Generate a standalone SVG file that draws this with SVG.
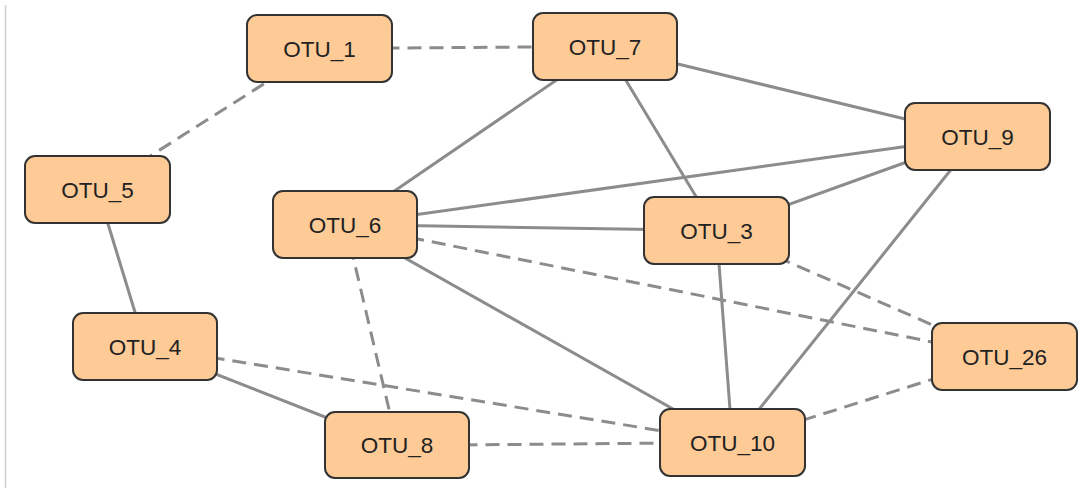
<svg xmlns="http://www.w3.org/2000/svg" width="1088" height="489" viewBox="0 0 1088 489">
<style>
.e{stroke:#8c8c8c;stroke-width:3;fill:none}
.d{stroke-dasharray:14 8}
.n rect{fill:#fecb97;stroke:#333;stroke-width:2}
.n text{font-family:"Liberation Sans",Arial,sans-serif;font-size:22.5px;fill:#222;text-anchor:middle}
</style>
<rect width="1088" height="489" fill="#fff"/>
<line x1="5.5" y1="5" x2="5.5" y2="488" stroke="#cfcfcf" stroke-width="1.5"/>
<g id="connectors">
<line class="e d" x1="319.5" y1="48.5" x2="605.5" y2="46.5"/>
<line class="e d" x1="319.5" y1="48.5" x2="97.5" y2="189.5"/>
<line class="e" x1="97.5" y1="189.5" x2="145.5" y2="346.5"/>
<line class="e" x1="605.5" y1="46.5" x2="977.5" y2="136.5"/>
<line class="e" x1="605.5" y1="46.5" x2="345.5" y2="224.5"/>
<line class="e" x1="605.5" y1="46.5" x2="716.5" y2="230.5"/>
<line class="e" x1="345.5" y1="224.5" x2="977.5" y2="136.5"/>
<line class="e" x1="345.5" y1="224.5" x2="716.5" y2="230.5"/>
<line class="e" x1="716.5" y1="230.5" x2="977.5" y2="136.5"/>
<line class="e d" x1="345.5" y1="224.5" x2="1004.5" y2="356.5"/>
<line class="e" x1="345.5" y1="224.5" x2="732.5" y2="442.5"/>
<line class="e d" x1="345.5" y1="224.5" x2="397.5" y2="445.5"/>
<line class="e d" x1="716.5" y1="230.5" x2="1004.5" y2="356.5"/>
<line class="e" x1="716.5" y1="230.5" x2="732.5" y2="442.5"/>
<line class="e" x1="977.5" y1="136.5" x2="732.5" y2="442.5"/>
<line class="e d" x1="1004.5" y1="356.5" x2="732.5" y2="442.5"/>
<line class="e" x1="145.5" y1="346.5" x2="397.5" y2="445.5"/>
<line class="e d" x1="145.5" y1="346.5" x2="732.5" y2="442.5"/>
<line class="e d" x1="397.5" y1="445.5" x2="732.5" y2="442.5"/>
</g>
<g id="OTU_1" class="n"><rect x="247" y="15" width="145" height="67" rx="10"/><text x="319.5" y="56.5">OTU_1</text></g>
<g id="OTU_7" class="n"><rect x="533" y="13" width="144" height="67" rx="10"/><text x="605" y="54.5">OTU_7</text></g>
<g id="OTU_5" class="n"><rect x="25" y="156" width="145" height="67" rx="10"/><text x="97.5" y="197.5">OTU_5</text></g>
<g id="OTU_6" class="n"><rect x="273" y="191" width="144" height="67" rx="10"/><text x="345" y="232.5">OTU_6</text></g>
<g id="OTU_3" class="n"><rect x="644" y="197" width="145" height="67" rx="10"/><text x="716.5" y="238.5">OTU_3</text></g>
<g id="OTU_9" class="n"><rect x="905" y="103" width="145" height="67" rx="10"/><text x="977.5" y="144.5">OTU_9</text></g>
<g id="OTU_26" class="n"><rect x="932" y="323" width="145" height="67" rx="10"/><text x="1004.5" y="364.5">OTU_26</text></g>
<g id="OTU_4" class="n"><rect x="73" y="313" width="144" height="67" rx="10"/><text x="145" y="354.5">OTU_4</text></g>
<g id="OTU_8" class="n"><rect x="325" y="412" width="144" height="66" rx="10"/><text x="397" y="453">OTU_8</text></g>
<g id="OTU_10" class="n"><rect x="660" y="409" width="145" height="67" rx="10"/><text x="732.5" y="450.5">OTU_10</text></g>
</svg>
